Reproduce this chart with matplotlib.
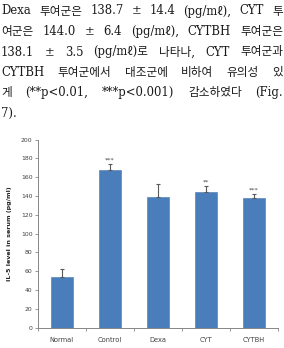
import matplotlib
matplotlib.use('Agg')
import matplotlib.pyplot as plt
import numpy as np

# data
groups = ['Normal', 'Control', 'Dexa', 'CYT', 'CYTBH']
means = [53.5, 168.0, 138.7, 144.0, 138.1]
errs = [8.5, 5.5, 14.4, 6.4, 3.5]
stars = ['', '***', '', '**', '***']
yticks = list(range(0, 201, 20))

text_lines = [
    "Dexa 투여군은 138.7 ± 14.4 (pg/mℓ), CYT 투",
    "여군은 144.0 ± 6.4 (pg/mℓ), CYTBH 투여군은",
    "138.1 ± 3.5 (pg/mℓ)로 나타나, CYT 투여군과",
    "CYTBH 투여군에서 대조군에 비하여 유의성 있",
    "게 (**p<0.01, ***p<0.001) 감소하였다 (Fig.",
    "7).",
]

W, H = 284, 348
fig = plt.figure(figsize=(W / 100, H / 100), dpi=100)
fig.patch.set_facecolor('white')

# paragraph text (justified by hand, word by word)
txt_font = ['DejaVu Serif', 'Noto Sans CJK KR']
line_y = [11, 31.5, 52, 72.5, 93, 113.5]
left_px, right_px = 1, 283
renderer = fig.canvas.get_renderer()
for i, line in enumerate(text_lines):
    words = line.split(' ')
    objs = []
    for w in words:
        t = fig.text(0, 1 - line_y[i] / H, w, fontsize=8.4, family=txt_font,
                     color='#1a1a1a', va='center', ha='left')
        objs.append(t)
    widths = [t.get_window_extent(renderer).width for t in objs]
    if i < len(text_lines) - 1 and len(words) > 1:
        gap = (right_px - left_px - sum(widths)) / (len(words) - 1)
    else:
        gap = 4
    x = left_px
    for t, wd in zip(objs, widths):
        t.set_x(x / W)
        x += wd + gap

# chart
ax = fig.add_axes([37.7 / W, 20.3 / H, 240 / W, 188.2 / H])
x = np.arange(len(groups))
ax.bar(x, means, width=0.46, color='#4a7ebb', edgecolor='#4575b0', linewidth=0.4, zorder=2)
ax.errorbar(x, means, yerr=[np.zeros(len(errs)), errs], fmt='none', ecolor='#595959',
            elinewidth=0.8, capsize=1.6, capthick=0.8, zorder=3)
for xi, m, e, s in zip(x, means, errs, stars):
    if s:
        ax.text(xi, m + e + 1.5, s, ha='center', va='bottom', fontsize=4.6, color='#404040')

ax.set_xlim(-0.5, len(groups) - 0.5)
ax.set_ylim(0, 200)
ax.set_yticks(yticks)
ax.set_xticks(x)
ax.set_xticklabels(groups)
ax.set_xticks(np.arange(-0.5, len(groups)), minor=True)
ax.tick_params(axis='x', which='major', length=0, pad=7, labelsize=4.8, labelcolor='#404040')
ax.tick_params(axis='x', which='minor', length=2.2, width=0.6, color='#868686', direction='out')
ax.tick_params(axis='y', length=2.2, width=0.6, color='#868686', pad=1.5, labelsize=4.4,
               labelcolor='#404040')
for sp in ['top', 'right']:
    ax.spines[sp].set_visible(False)
for sp in ['left', 'bottom']:
    ax.spines[sp].set_color('#868686')
    ax.spines[sp].set_linewidth(0.7)
ax.set_ylabel('IL-5 level in serum (pg/ml)', fontsize=4.6, fontweight='bold', color='#262626')
ax.yaxis.set_label_coords(-0.108, 0.5)

fig.savefig('out.png', dpi=100)
